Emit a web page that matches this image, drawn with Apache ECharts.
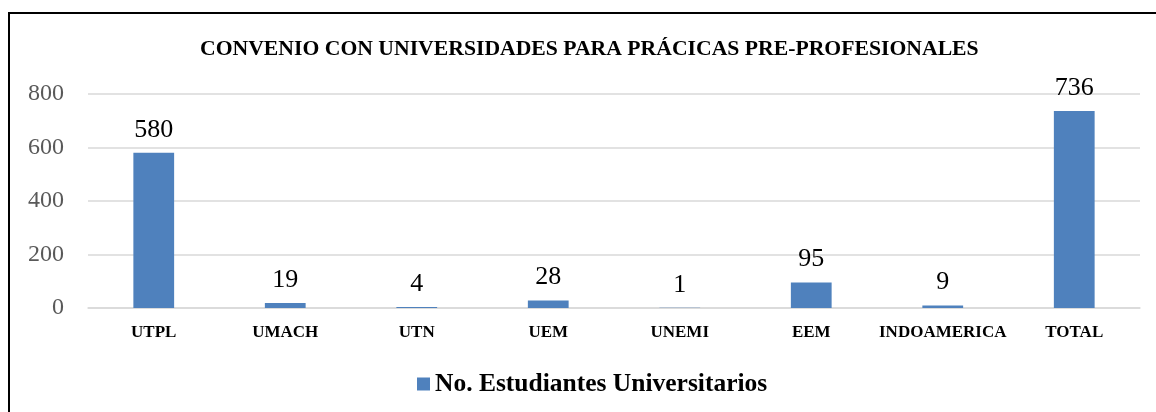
<!DOCTYPE html>
<html>
<head>
<meta charset="utf-8">
<script src="https://cdn.jsdelivr.net/npm/echarts@6/dist/echarts.min.js"></script>
<style>
    body { margin: 0; background: #fff; }
    #wrap { position: relative; width: 1156px; height: 412px; overflow: hidden; }
    #chart { width: 1156px; height: 412px; }
    #frame {
        position: absolute; left: 8px; top: 12px; width: 1200px; height: 500px;
        border-left: 2px solid #000; border-top: 2px solid #000; pointer-events: none;
    }
</style>
</head>
<body>
<div id="wrap">
    <div id="chart"></div>
    <div id="frame"></div>
</div>
<script>
    const categories = ['UTPL', 'UMACH', 'UTN', 'UEM', 'UNEMI', 'EEM', 'INDOAMERICA', 'TOTAL']
    const estudiantes = [580, 19, 4, 28, 1, 95, 9, 736]
    const seriesName = 'No. Estudiantes Universitarios'
    const serif = '"Liberation Serif", "DejaVu Serif", serif'

    let chart = echarts.init(document.getElementById('chart'))

    chart.setOption({
        animation: false,
        title: {
            text: 'CONVENIO CON UNIVERSIDADES PARA PRÁCICAS PRE-PROFESIONALES',
            left: 195,
            top: 33,
            textStyle: {
                fontFamily: serif,
                fontWeight: 'bold',
                fontSize: 21.7,
                color: '#000'
            }
        },
        legend: {
            bottom: 10,
            left: 412,
            itemWidth: 13,
            itemHeight: 13,
            itemGap: 7,
            icon: 'rect',
            textStyle: {
                fontFamily: serif,
                fontWeight: 'bold',
                fontSize: 25.5,
                color: '#000'
            },
            data: [seriesName]
        },
        grid: {
            left: 88,
            right: 16,
            top: 94,
            bottom: 104
        },
        xAxis: {
            type: 'category',
            data: categories,
            axisLine: { show: true, lineStyle: { color: '#d9d9d9', width: 1.5 } },
            axisTick: { show: false },
            axisLabel: {
                interval: 0,
                margin: 16,
                fontFamily: serif,
                fontWeight: 'bold',
                fontSize: 17,
                color: '#000'
            }
        },
        yAxis: {
            type: 'value',
            min: 0,
            max: 800,
            interval: 200,
            axisLine: { show: false },
            axisTick: { show: false },
            splitLine: { lineStyle: { color: '#d9d9d9', width: 1.5 } },
            axisLabel: {
                margin: 24,
                fontFamily: serif,
                fontSize: 24,
                color: '#595959'
            }
        },
        series: [{
            name: seriesName,
            type: 'bar',
            data: estudiantes,
            barWidth: '31%',
            itemStyle: { color: '#4f81bd' },
            label: {
                show: true,
                position: 'top',
                distance: 10,
                fontFamily: serif,
                fontSize: 26,
                color: '#000'
            }
        }]
    })
</script>
</body>
</html>
